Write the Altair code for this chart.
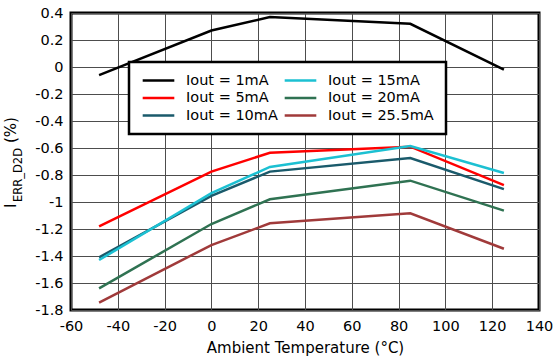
import altair as alt
import pandas as pd

temps = [-48, 0, 25, 85, 125]
i1 = [-0.06, 0.27, 0.37, 0.32, -0.02]
i5 = [-1.18, -0.775, -0.635, -0.59, -0.875]
i10 = [-1.41, -0.955, -0.775, -0.675, -0.905]
i15 = [-1.43, -0.935, -0.74, -0.585, -0.785]
i20 = [-1.64, -1.163, -0.98, -0.842, -1.064]
i25 = [-1.745, -1.319, -1.158, -1.084, -1.346]

series_names = ["Iout = 1mA", "Iout = 5mA", "Iout = 10mA",
                "Iout = 15mA", "Iout = 20mA", "Iout = 25.5mA"]
series_vals = [i1, i5, i10, i15, i20, i25]
series_colors = ["#000000", "#ff0000", "#1a5a6b", "#1cc0d2", "#2f7252", "#a03a3a"]

x_ticks = [-60, -40, -20, 0, 20, 40, 60, 80, 100, 120, 140]
y_ticks = [0.4, 0.2, 0, -0.2, -0.4, -0.6, -0.8, -1, -1.2, -1.4, -1.6, -1.8]

rows = []
for name, vals in zip(series_names, series_vals):
    for t, v in zip(temps, vals):
        rows.append({"temp": t, "err": v, "series": name})
df = pd.DataFrame(rows)

FONT = "DejaVu Sans"
LBL = "replace(format(datum.value, '~g'), '\u2212', '-')"

lines = alt.Chart(df).mark_line(strokeWidth=2.5).encode(
    x=alt.X("temp:Q", scale=alt.Scale(domain=[-60, 140], nice=False),
            axis=alt.Axis(values=x_ticks, title="Ambient Temperature (°C)", labelExpr=LBL)),
    y=alt.Y("err:Q", scale=alt.Scale(domain=[-1.8, 0.4], nice=False),
            axis=alt.Axis(values=y_ticks, title=None, labelExpr=LBL)),
    color=alt.Color("series:N",
                    scale=alt.Scale(domain=series_names, range=series_colors),
                    legend=alt.Legend(title=None, orient="none", legendX=58, legendY=49,
                                      columns=2, symbolType="stroke", symbolSize=1000,
                                      symbolStrokeWidth=2.5, clipHeight=13,
                                      rowPadding=2.5, columnPadding=5, labelOffset=10,
                                      padding=12, labelFontSize=14.5, labelFont=FONT,
                                      labelColor="#000000", strokeColor="#000000",
                                      fillColor="#ffffff", labelLimit=200)),
    detail="series:N",
)

title_I = alt.Chart(pd.DataFrame({"t": ["I"]})).mark_text(
    angle=270, align="left", baseline="alphabetic", fontSize=15, font=FONT, color="#000000"
).encode(x=alt.value(-55), y=alt.value(195), text="t:N")
title_sub = alt.Chart(pd.DataFrame({"t": ["ERR_D2D"]})).mark_text(
    angle=270, align="left", baseline="alphabetic", fontSize=11.5, font=FONT, color="#000000"
).encode(x=alt.value(-49), y=alt.value(189), text="t:N")
title_pct = alt.Chart(pd.DataFrame({"t": ["(%)"]})).mark_text(
    angle=270, align="left", baseline="alphabetic", fontSize=15, font=FONT, color="#000000"
).encode(x=alt.value(-55), y=alt.value(130), text="t:N")

chart = alt.layer(lines, title_I, title_sub, title_pct).properties(
    width=468, height=297,
    autosize=alt.AutoSizeParams(type="none"),
    padding={"left": 71, "top": 13, "right": 16, "bottom": 48},
    background="#ffffff",
).configure_view(
    stroke="#000000", strokeWidth=3
).configure_axis(
    grid=True, gridColor="#4d4d4d", gridWidth=1, gridOpacity=1,
    domain=False, ticks=False, labelFlush=False, labelOverlap=False, labelBound=False,
    labelFont=FONT, labelFontSize=14.5, labelColor="#000000",
    titleFont=FONT, titleFontSize=15, titleFontWeight="normal", titleColor="#000000",
).configure_axisX(
    labelPadding=9, titlePadding=8,
).configure_axisY(
    labelPadding=8,
).configure_legend(
    strokeWidth=2.5
)

chart.save("out.html", embed_options={"renderer": "svg", "actions": False})
